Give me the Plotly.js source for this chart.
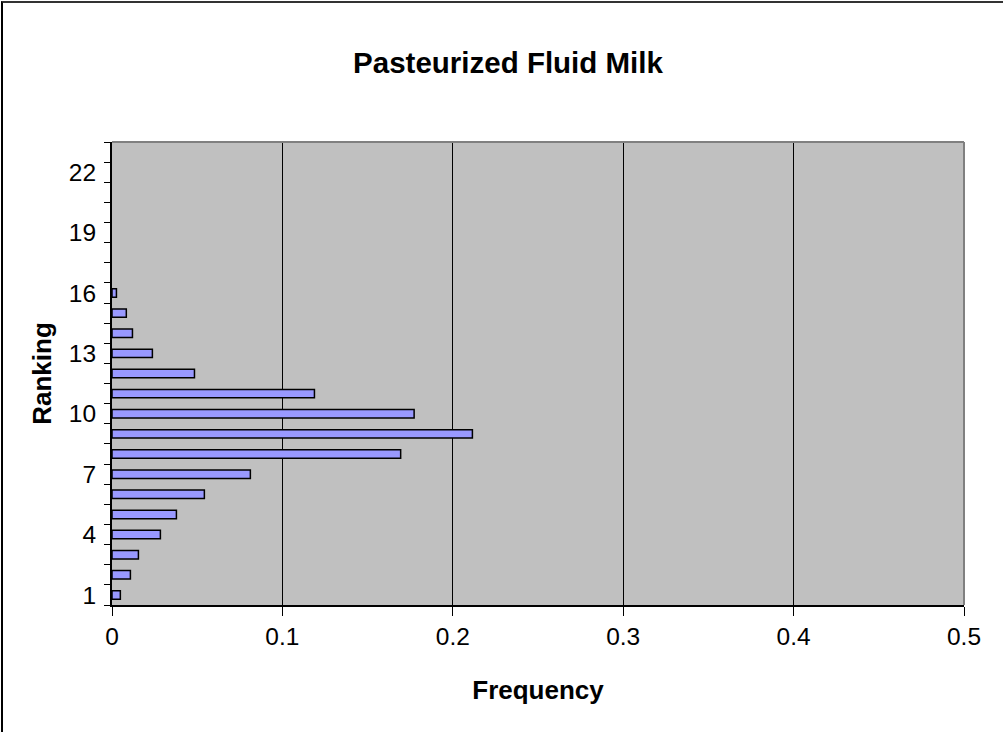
<!DOCTYPE html>
<html>
<head>
<meta charset="utf-8">
<script src="https://cdn.plot.ly/plotly-3.0.1.min.js"></script>
<style>
  html, body { margin: 0; padding: 0; background: #fff; }
  #chart { position: absolute; left: 0; top: 0; width: 1003px; height: 732px; }
  #frame { position: absolute; left: 1px; top: 1px; width: 1020px; height: 760px;
           border-left: 2px solid #000; border-top: 2px solid #333; pointer-events: none; }
</style>
</head>
<body>
<div id="chart"></div>
<div id="frame"></div>
<script>
// Ranking categories with bars
const rankings = [1, 2, 3, 4, 5, 6, 7, 8, 9, 10, 11, 12, 13, 14, 15, 16];
// Frequency
const frequency = [0.0049, 0.0108, 0.0155, 0.0284, 0.0378, 0.0542, 0.0812, 0.1694,
                   0.2115, 0.1773, 0.1188, 0.0484, 0.0237, 0.0120, 0.0084, 0.0026];
// Y tick labels shown
const yTickVals = [1, 4, 7, 10, 13, 16, 19, 22];
const xTickVals = [0, 0.1, 0.2, 0.3, 0.4, 0.5];
const xTickText = ['0', '0.1', '0.2', '0.3', '0.4', '0.5'];
const maxRank = 23;

const font = 'Liberation Sans, Arial, sans-serif';

const trace = {
  type: 'bar',
  orientation: 'h',
  x: frequency,
  y: rankings,
  width: 0.42,
  marker: { color: '#9999FF', line: { color: '#000000', width: 1.5 } },
  hoverinfo: 'skip'
};

const layout = {
  width: 1003,
  height: 732,
  margin: { l: 112, r: 39, t: 142, b: 127 },
  paper_bgcolor: '#ffffff',
  plot_bgcolor: '#C0C0C0',
  showlegend: false,
  font: { family: font, color: '#000', size: 24 },
  title: {
    text: '<b>Pasteurized Fluid Milk</b>',
    font: { family: font, size: 29.5, color: '#000' },
    x: 508 / 1003, xref: 'container', xanchor: 'center',
    y: 1 - 63 / 732, yref: 'container', yanchor: 'middle'
  },
  xaxis: {
    range: [0, 0.5],
    tickmode: 'array',
    tickvals: xTickVals,
    ticktext: xTickText,
    ticks: 'outside', ticklen: 9, tickwidth: 1, tickcolor: '#000',
    showgrid: true, gridcolor: '#000', gridwidth: 1,
    zeroline: false,
    showline: true, linecolor: '#000', linewidth: 2,
    tickfont: { family: font, size: 24.5, color: '#000' },
    title: { text: '<b>Frequency</b>', font: { family: font, size: 26, color: '#000' }, standoff: 31 },
    fixedrange: true
  },
  yaxis: {
    range: [0.5, maxRank + 0.5],
    tickmode: 'array',
    tickvals: yTickVals,
    ticktext: yTickVals.map(String),
    ticks: '',
    ticklabelstandoff: 9,
    showgrid: false,
    zeroline: false,
    showline: true, linecolor: '#000', linewidth: 2,
    tickfont: { family: font, size: 24.5, color: '#000' },
    minor: { tickmode: 'linear', tick0: 0.5, dtick: 1, ticks: 'outside', ticklen: 6, tickwidth: 1, tickcolor: '#000', showgrid: false },
    title: { text: '<b>Ranking</b>', font: { family: font, size: 26, color: '#000' }, standoff: 10 },
    fixedrange: true
  },
  shapes: [
    { type: 'line', xref: 'paper', yref: 'paper', x0: 0, x1: 1, y0: 1, y1: 1, line: { color: '#808080', width: 2 }, layer: 'above' },
    { type: 'line', xref: 'paper', yref: 'paper', x0: 1, x1: 1, y0: 0, y1: 1, line: { color: '#808080', width: 2 }, layer: 'above' }
  ],
  bargap: 0.58
};

Plotly.newPlot('chart', [trace], layout, { staticPlot: true, displayModeBar: false });
</script>
</body>
</html>
